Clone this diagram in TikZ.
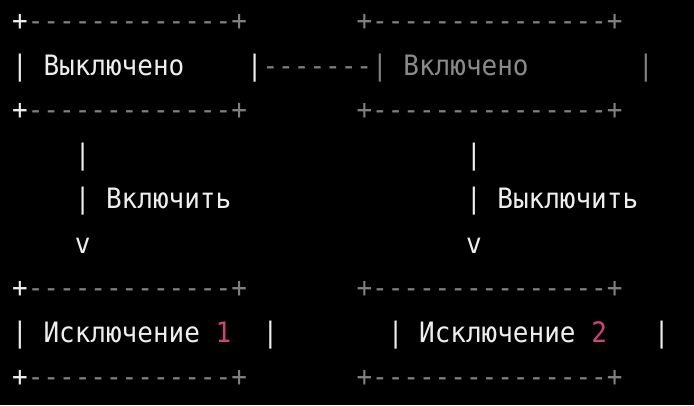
\documentclass[tikz,border=0pt]{standalone}
\usepackage{fontspec}
\newfontfamily\asciimono[FakeStretch=0.925]{DejaVu Sans Mono}
\definecolor{txtwhite}{RGB}{238,238,238}
\definecolor{txtgray}{RGB}{128,128,128}
\definecolor{txtgrayb}{RGB}{138,138,138}
\definecolor{txtpink}{RGB}{206,68,120}
\tikzset{
  cell/.style={anchor=base west, inner sep=0pt, outer sep=0pt, font={\asciimono\fontsize{28.1}{30}\selectfont}},
  wt/.style={cell, text=txtwhite},
  gt/.style={cell, text=txtgray},
  gtb/.style={cell, text=txtgrayb},
  pt/.style={cell, text=txtpink}
}
\begin{document}
\begin{tikzpicture}
\fill[black] (0pt,0pt) rectangle (694pt,-405pt);
\useasboundingbox (0pt,0pt) rectangle (694pt,-405pt);
\begin{scope}[shift={(12.2pt,-30.5pt)}, x=15.65pt, y=-44.56pt]
  % row 0: top borders
  \node[wt]  (a0) at (0,0)  {+};
  \node[gt]  (a1) at (1,0)  {-------------};
  \node[gt]  (a2) at (14,0) {+};
  \node[gt]  (b0) at (22,0) {+};
  \node[gt]  (b1) at (23,0) {---------------};
  \node[gt]  (b2) at (38,0) {+};
  % row 1: state boxes
  \node[wt]  (c0) at (0,1)  {|};
  \node[wt]  (off) at (2,1) {Выключено};
  \node[wt]  (c1) at (15,1) {|};
  \node[gt]  (link) at (16,1) {-------};
  \node[gt]  (c2) at (23,1) {|};
  \node[gtb] (on) at (25,1) {Включено};
  \node[gt]  (c3) at (40,1) {|};
  % row 2: bottom borders
  \node[wt]  (d0) at (0,2)  {+};
  \node[gt]  (d1) at (1,2)  {-------------};
  \node[gt]  (d2) at (14,2) {+};
  \node[gt]  (e0) at (22,2) {+};
  \node[gt]  (e1) at (23,2) {---------------};
  \node[gt]  (e2) at (38,2) {+};
  % rows 3-5: arrows
  \node[wt]  (f0) at (4,3)  {|};
  \node[wt]  (f1) at (29,3) {|};
  \node[wt]  (g0) at (4,4)  {|};
  \node[wt]  (turnon) at (6,4) {Включить};
  \node[wt]  (g1) at (29,4) {|};
  \node[wt]  (turnoff) at (31,4) {Выключить};
  \node[wt]  (h0) at (4,5)  {v};
  \node[wt]  (h1) at (29,5) {v};
  % row 6: top borders
  \node[wt]  (i0) at (0,6)  {+};
  \node[gt]  (i1) at (1,6)  {-------------};
  \node[gt]  (i2) at (14,6) {+};
  \node[gt]  (j0) at (22,6) {+};
  \node[gt]  (j1) at (23,6) {---------------};
  \node[gt]  (j2) at (38,6) {+};
  % row 7: exception boxes
  \node[wt]  (k0) at (0,7)  {|};
  \node[wt]  (exa) at (2,7) {Исключение};
  \node[pt]  (n1) at (13,7) {1};
  \node[wt]  (k1) at (16,7) {|};
  \node[wt]  (k2) at (24,7) {|};
  \node[wt]  (exb) at (26,7) {Исключение};
  \node[pt]  (n2) at (37,7) {2};
  \node[wt]  (k3) at (41,7) {|};
  % row 8: bottom borders
  \node[wt]  (l0) at (0,8)  {+};
  \node[gt]  (l1) at (1,8)  {-------------};
  \node[gt]  (l2) at (14,8) {+};
  \node[gt]  (m0) at (22,8) {+};
  \node[gt]  (m1) at (23,8) {---------------};
  \node[gt]  (m2) at (38,8) {+};
\end{scope}
\end{tikzpicture}
\end{document}
